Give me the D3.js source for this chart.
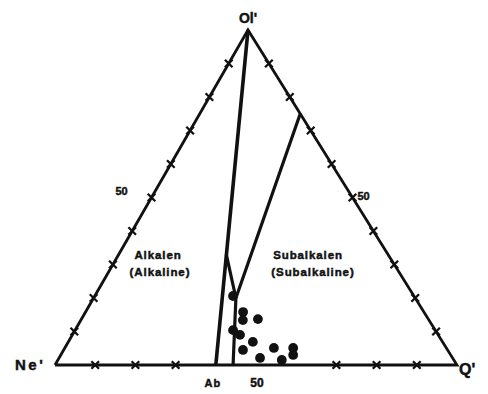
<!DOCTYPE html>
<html>
<head>
<meta charset="utf-8">
<script src="https://cdn.jsdelivr.net/npm/d3@7"></script>
<style>
  html, body { margin: 0; padding: 0; background: #fff; }
  svg { display: block; }
  text { font-family: "Liberation Sans", Arial, sans-serif; font-weight: bold; fill: #111;
         stroke: #111; stroke-width: 0.45; }
</style>
</head>
<body>
<svg id="chart" width="488" height="394"></svg>
<script>
// Ne'–Ol'–Q' ternary diagram (percent of each corner component)

// Corner labels
const cornerLabels = ["Ne'", "Ol'", "Q'"];

// Tick percentages along each side
const sideTicks = [10, 20, 30, 40, 50, 60, 70, 80, 90];
const baseTicks = [10, 20, 30, 70, 80, 90];

// Ol'–Ab join (Ab lies at Q' = 40 on the Ne'–Q' side), as [ol, q]
const abJoin = [[100, 0], [0, 40]];

// Alkaline / subalkaline dividing line, as [ol, q]
const dividerMain = [[75, 25], [20, 35.4], [0, 44.3]];
const dividerBranch = [[32.8, 26.9], [20, 35.4]];

// Sample compositions, as [ol, q] (Ne' = 100 - ol - q)
const sampleOl = [20.6, 15.8, 13.4, 13.7, 9.0, 10.4, 6.9, 4.5, 2.1, 5.1, 1.5, 5.1, 3.0];
const sampleQ  = [34.4, 39.2, 40.3, 43.9, 41.7, 39.3, 45.9, 44.6, 50.0, 52.0, 55.7, 56.8, 57.8];

const svg = d3.select("#chart");

// Corner positions of the triangle
const NE = [55, 365], OL = [248, 30], QZ = [457, 365];

// Scales for each component share (0–100 %)
const sNe = d3.scaleLinear().domain([0, 100]).range([0, 1]);
const sOl = d3.scaleLinear().domain([0, 100]).range([0, 1]);
const sQ  = d3.scaleLinear().domain([0, 100]).range([0, 1]);

function proj(ol, q) {
  const a = sOl(ol), b = sQ(q), c = sNe(100 - ol - q);
  return [c * NE[0] + a * OL[0] + b * QZ[0], c * NE[1] + a * OL[1] + b * QZ[1]];
}

const line = d3.line().x(d => proj(d[0], d[1])[0]).y(d => proj(d[0], d[1])[1]);

// Triangle outline
svg.append("path")
  .attr("d", line([[0, 0], [100, 0], [0, 100], [0, 0]]))
  .attr("fill", "none").attr("stroke", "#111").attr("stroke-width", 2.8)
  .attr("stroke-linejoin", "miter");

// Tick marks drawn as small crosses on the edges
function cross(p, size) {
  return `M${p[0] - size},${p[1] - size}L${p[0] + size},${p[1] + size}` +
         `M${p[0] - size},${p[1] + size}L${p[0] + size},${p[1] - size}`;
}
const tickPts = [];
sideTicks.forEach(t => { tickPts.push(proj(t, 0)); });          // Ne'–Ol' side
sideTicks.forEach(t => { tickPts.push(proj(t, 100 - t)); });    // Ol'–Q' side
baseTicks.forEach(t => { tickPts.push(proj(0, t)); });          // Ne'–Q' side
svg.append("g").selectAll("path").data(tickPts).join("path")
  .attr("d", d => cross(d, 3.8))
  .attr("stroke", "#111").attr("stroke-width", 2.3).attr("fill", "none");

// Ol'–Ab join
svg.append("path").attr("d", line(abJoin))
  .attr("fill", "none").attr("stroke", "#111").attr("stroke-width", 3.6);

// Dividing line
svg.append("path").attr("d", line(dividerMain))
  .attr("fill", "none").attr("stroke", "#111").attr("stroke-width", 3.2)
  .attr("stroke-linejoin", "round");
svg.append("path").attr("d", line(dividerBranch))
  .attr("fill", "none").attr("stroke", "#111").attr("stroke-width", 3.2);

// Samples
svg.append("g").selectAll("circle").data(sampleOl.map((o, i) => [o, sampleQ[i]])).join("circle")
  .attr("cx", d => proj(d[0], d[1])[0])
  .attr("cy", d => proj(d[0], d[1])[1])
  .attr("r", 4.9).attr("fill", "#111");

// Corner labels
svg.append("text").attr("x", OL[0]).attr("y", 23).attr("text-anchor", "middle")
  .attr("font-size", 14).text(cornerLabels[1]);
svg.append("text").attr("x", 15).attr("y", 370)
  .attr("font-size", 15).attr("letter-spacing", 2.5).text(cornerLabels[0]);
svg.append("text").attr("x", 459).attr("y", 375)
  .attr("font-size", 16).text(cornerLabels[2]);

// Scale labels
const p50L = proj(50, 0), p50R = proj(50, 50), p50B = proj(0, 50), pAb = proj(0, 40);
svg.append("text").attr("x", p50L[0] - 30).attr("y", p50L[1] - 3)
  .attr("font-size", 11).attr("text-anchor", "middle").text("50");
svg.append("text").attr("x", p50R[0] + 11).attr("y", p50R[1] + 2)
  .attr("font-size", 11).attr("text-anchor", "middle").text("50");
svg.append("text").attr("x", p50B[0] + 1).attr("y", 387)
  .attr("font-size", 12).attr("text-anchor", "middle").text("50");
svg.append("text").attr("x", pAb[0] - 3).attr("y", 387)
  .attr("font-size", 11).attr("text-anchor", "middle").attr("letter-spacing", 1).text("Ab");

// Field labels
svg.append("text").attr("x", 158).attr("y", 259).attr("font-size", 11.5)
  .attr("text-anchor", "middle").attr("letter-spacing", 0.9).text("Alkalen");
svg.append("text").attr("x", 160).attr("y", 276).attr("font-size", 11.5)
  .attr("text-anchor", "middle").attr("letter-spacing", 0.9).text("(Alkaline)");
svg.append("text").attr("x", 308).attr("y", 259).attr("font-size", 11.5)
  .attr("text-anchor", "middle").attr("letter-spacing", 0.9).text("Subalkalen");
svg.append("text").attr("x", 313).attr("y", 276).attr("font-size", 11.5)
  .attr("text-anchor", "middle").attr("letter-spacing", 0.9).text("(Subalkaline)");
</script>
</body>
</html>
